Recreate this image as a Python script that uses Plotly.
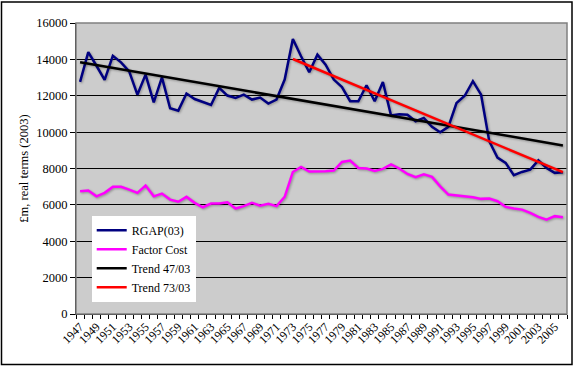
import plotly.graph_objects as go

years = list(range(1947, 2007))

rgap = [12760, 14400, 13650, 12870, 14200, 13840, 13340, 12060, 13160, 11640,
        13010, 11310, 11180, 12120, 11820, 11640, 11490, 12430, 12010, 11880,
        12060, 11790, 11900, 11570, 11790, 12890, 15120, 14170, 13290, 14260,
        13710, 12890, 12480, 11700, 11700, 12580, 11700, 12760, 10910, 10980,
        10960, 10600, 10780, 10290, 9990, 10290, 11600, 12000, 12800, 12060,
        9500, 8600, 8310, 7630, 7810, 7940, 8450, 8030, 7760, 7800]

factor_cost = [6750, 6790, 6470, 6660, 6990, 6990, 6840, 6660, 7060, 6470,
               6620, 6290, 6170, 6440, 6110, 5870, 6070, 6070, 6140, 5800,
               5930, 6110, 5960, 6060, 5930, 6440, 7810, 8090, 7830, 7830,
               7850, 7890, 8360, 8440, 8030, 8000, 7870, 7980, 8220, 8000,
               7700, 7520, 7680, 7540, 7020, 6570, 6530, 6470, 6420, 6330,
               6350, 6200, 5890, 5800, 5740, 5560, 5340, 5190, 5380, 5320]

trend47_years = [1947, 2006]
trend47_vals = [13840, 9270]

trend73_years = [1973, 2006]
trend73_vals = [14020, 7800]

y_ticks = list(range(0, 16001, 2000))
x_label_years = list(range(1947, 2006, 2))

FONT = "'Liberation Serif', 'Times New Roman', Times, serif"

fig = go.Figure()
fig.add_trace(go.Scatter(x=years, y=rgap, mode="lines", name="RGAP(03)",
                         line=dict(color="#000080", width=2.5)))
fig.add_trace(go.Scatter(x=years, y=factor_cost, mode="lines", name="Factor Cost",
                         line=dict(color="#FF00FF", width=2.5)))
fig.add_trace(go.Scatter(x=trend47_years, y=trend47_vals, mode="lines", name="Trend 47/03",
                         line=dict(color="#000000", width=2.5)))
fig.add_trace(go.Scatter(x=trend73_years, y=trend73_vals, mode="lines", name="Trend 73/03",
                         line=dict(color="#FF0000", width=2.5)))

fig.update_layout(
    width=575, height=367,
    margin=dict(l=76, r=8, t=23, b=52.5),
    paper_bgcolor="white",
    plot_bgcolor="#cccccc",
    font=dict(family=FONT, size=12, color="black"),
    showlegend=True,
    legend=dict(x=0.032, y=0.338, xanchor="left", yanchor="top",
                bgcolor="white", borderwidth=0,
                font=dict(family=FONT, size=12, color="black"),
                itemwidth=30),
    xaxis=dict(
        range=[1946.5, 2006.5],
        tickmode="array", tickvals=x_label_years,
        ticktext=[str(y) for y in x_label_years],
        tickangle=-45, ticks="", showgrid=False, zeroline=False,
        showline=True, linecolor="black", linewidth=1,
        tickfont=dict(family=FONT, size=12, color="black"),
        minor=dict(tick0=1946.5, dtick=1, ticks="outside", ticklen=4,
                   tickcolor="black", showgrid=False),
    ),
    yaxis=dict(
        range=[0, 16000], tickmode="array", tickvals=y_ticks,
        ticktext=[str(v) for v in y_ticks],
        ticks="outside", ticklen=5, tickcolor="black",
        showgrid=True, gridcolor="black", gridwidth=1, zeroline=False,
        showline=True, linecolor="black", linewidth=1,
        tickfont=dict(family=FONT, size=12.5, color="black"),
        title=dict(text="£m, real terms (2003)", standoff=4,
                   font=dict(family=FONT, size=12.5, color="black")),
    ),
)

# plot area border (gray top/right)
fig.add_shape(type="rect", xref="paper", yref="paper", x0=0, x1=1, y0=0, y1=1,
              line=dict(color="#808080", width=1.5), layer="above")
# outer chart border
fig.add_shape(type="rect", xref="paper", yref="paper",
              x0=(1.5 - 76) / 491, x1=(572 - 76) / 491,
              y0=(314.5 - 365) / 291.5, y1=(314.5 - 2) / 291.5,
              line=dict(color="black", width=1.5), layer="above")

post = (
    "document.body.style.margin='0px';document.body.style.overflow='hidden';"
    "document.querySelectorAll('.scatterlayer .trace path.js-line').forEach(function(p){"
    "p.style.filter='drop-shadow(1.5px 1.5px 1px rgba(0,0,0,0.3))';});"
)

fig.write_html("out.html", config={"displayModeBar": False}, post_script=post)
